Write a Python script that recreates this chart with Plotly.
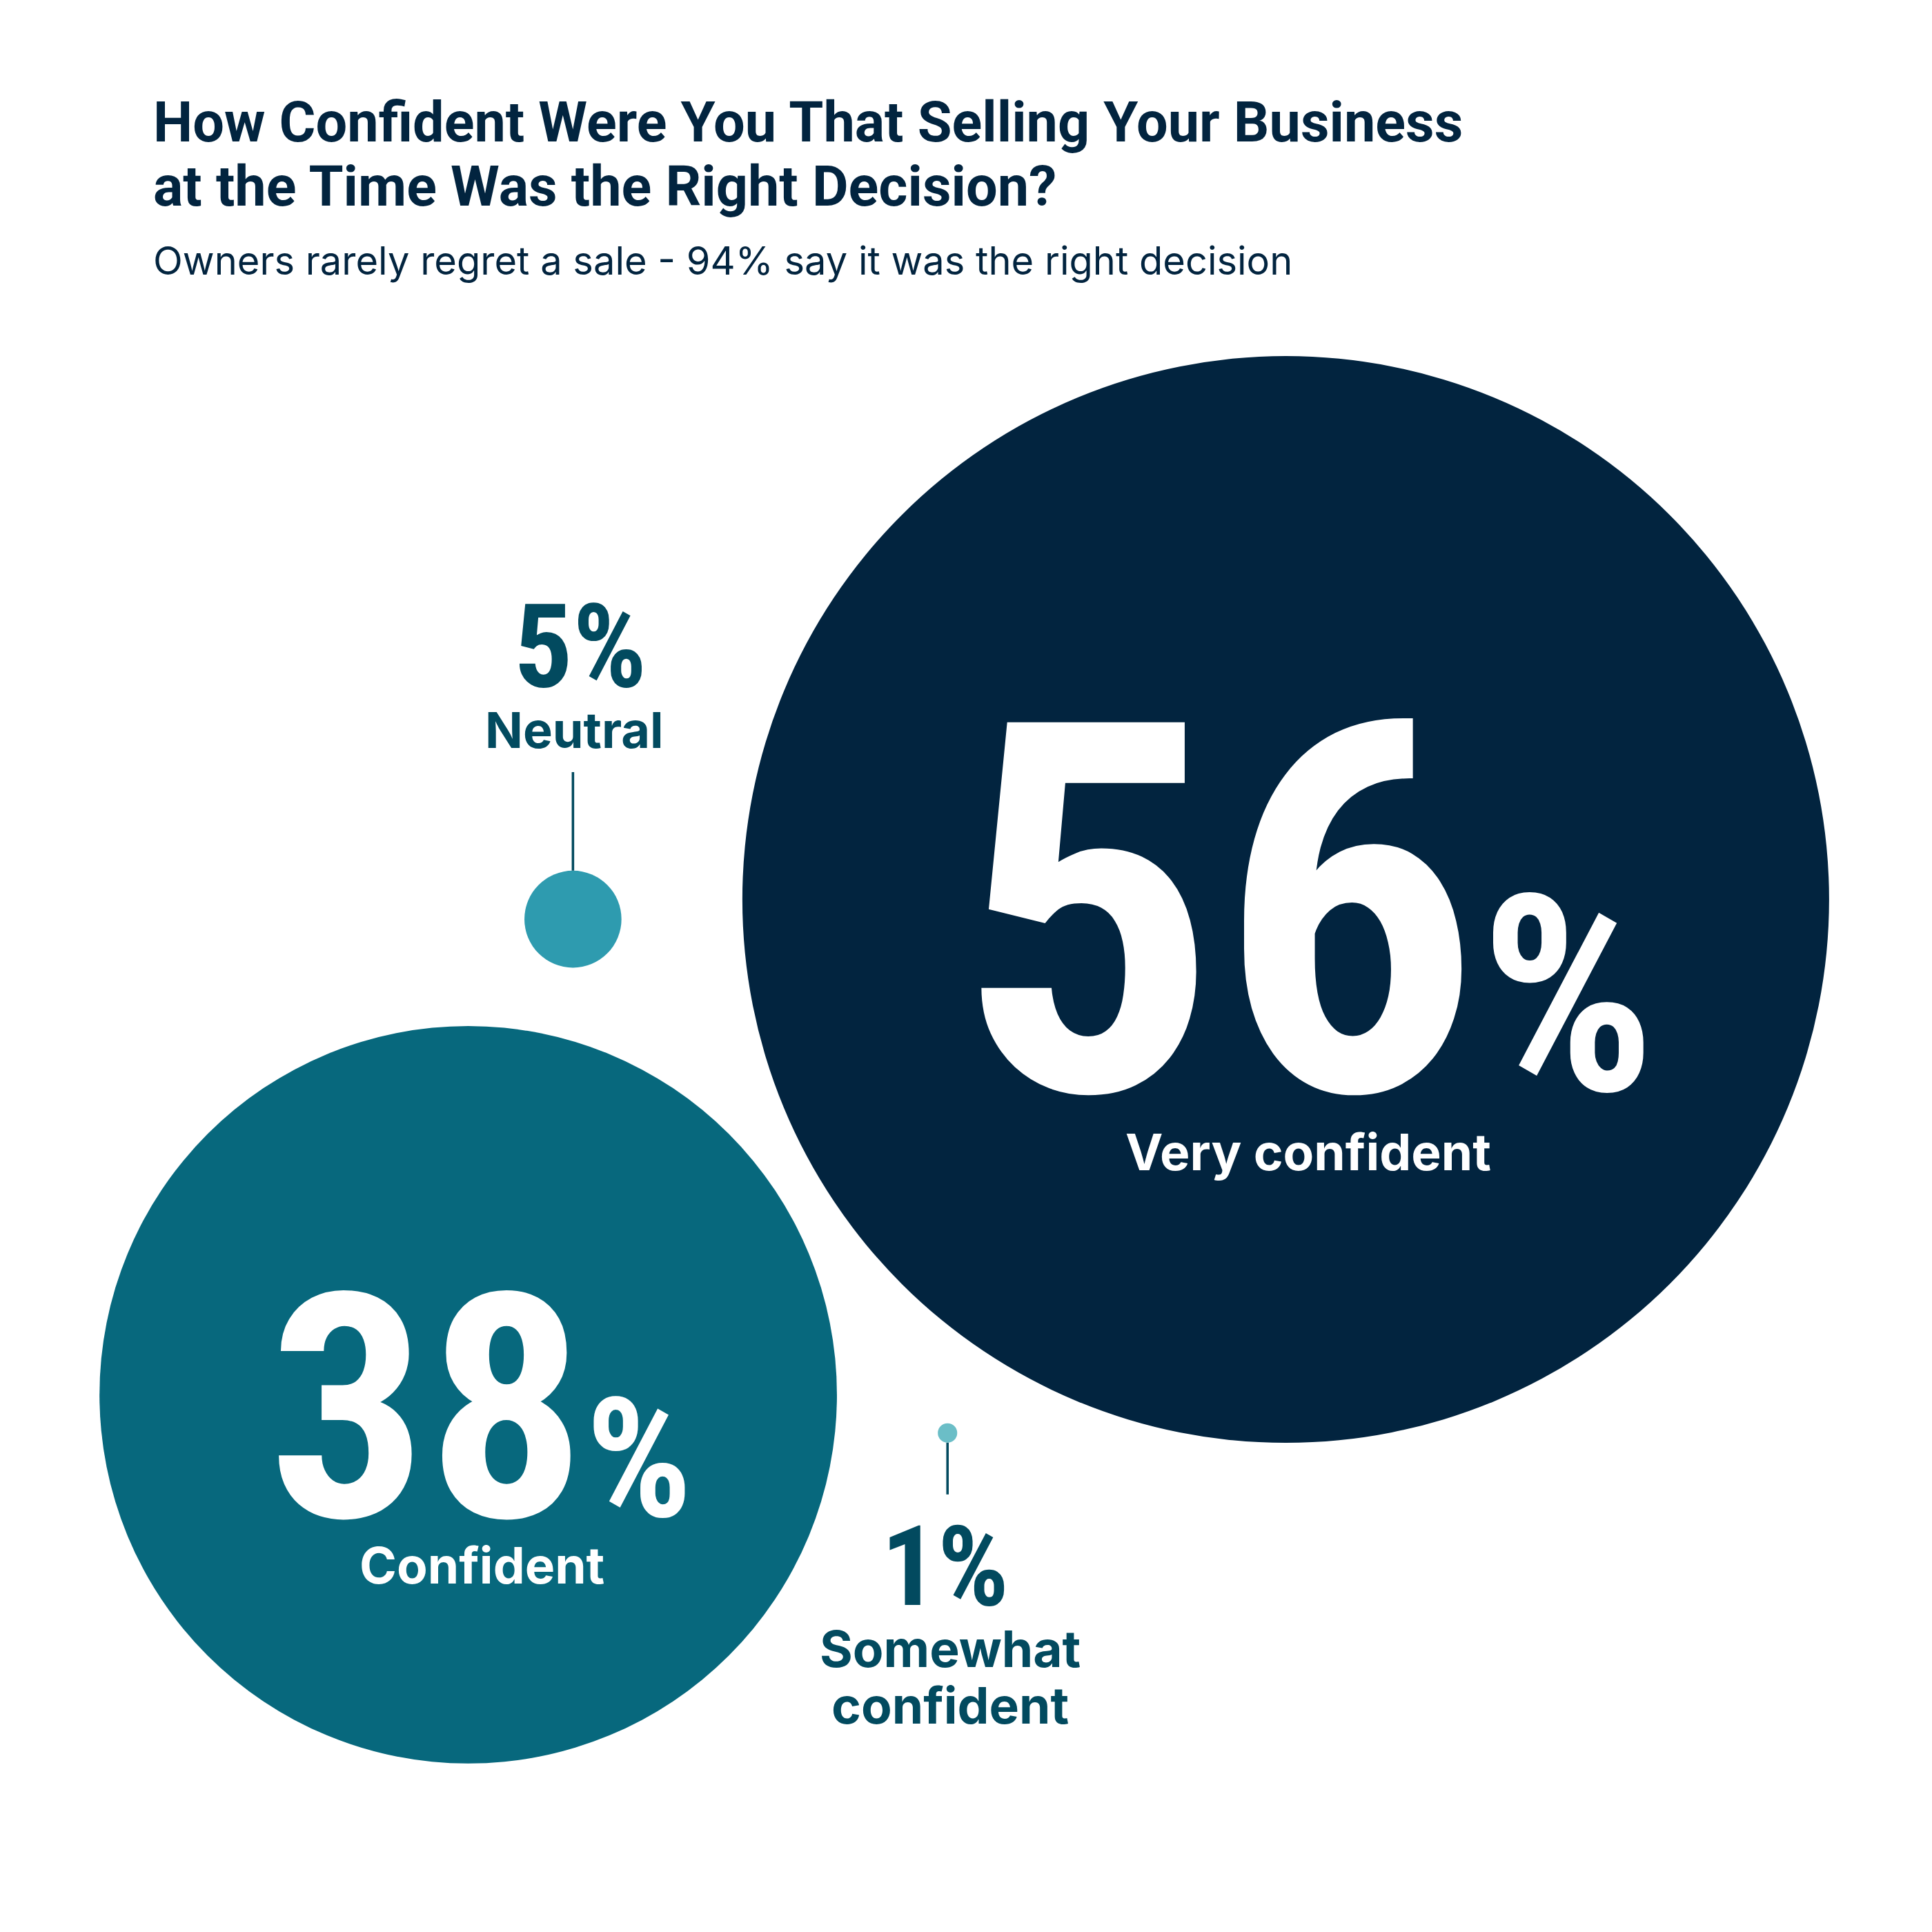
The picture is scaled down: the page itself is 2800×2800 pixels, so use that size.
import plotly.graph_objects as go

# ---------------- data ----------------
categories = ["Very confident", "Confident", "Neutral", "Somewhat confident"]
values = [56, 38, 5, 1]
label_lines = [["Very confident"], ["Confident"], ["Neutral"], ["Somewhat", "confident"]]
title_lines = ["How Confident Were You That Selling Your Business",
               "at the Time Was the Right Decision?"]
subtitle = "Owners rarely regret a sale - 94% say it was the right decision"

# ---------------- layout (reference units, 1568 wide) ----------------
REF = 1568
PX = 2800 / REF                 # screen px per reference unit
OFF = 8 / PX                    # compensate page body margin
R_PER_PCT = 441 / 56            # circle radius per percentage point
center_x = [1043.5, 380, 465, 769]
center_y = [730, 1132, 746, 1163]
fill_colors = ["#02243F", "#07687D", "#2E9BAF", "#6BBEC7"]
inside = [True, True, False, False]
num_cx = [1060, 390, 471, 767]
num_base = [885, 1231, 557, 1303]
num_font_px = [750, 455, 168, 162]
pct_ratio = [0.53, 0.53, 1.0, 1.0]
lab_cx = [1062, 391, 466, 771]
lab_base = [950, 1285, 607, 1353]
lab_font_px = [73, 73, 72, 73]
lab_line_gap = 46
leader_len = [0, 0, 80, 42]
leader_dir = [0, 0, -1, 1]

DARK_TEAL = "#024A5F"
NAVY = "#02243F"
NUM_FONT = "Roboto Condensed, Roboto, sans-serif"
LAB_FONT = "Inter, Roboto, sans-serif"
TITLE_FONT = "Roboto, Inter, sans-serif"


def mid_from_base(base, font_px, k):
    """y (ref units) of the text box middle for a given baseline."""
    return base - k * font_px / PX


fig = go.Figure()
shapes = []
annotations = []

for i, v in enumerate(values):
    r = v * R_PER_PCT
    cx, cy = center_x[i], center_y[i]
    shapes.append(dict(type="circle", xref="x", yref="y",
                       x0=cx - r, x1=cx + r, y0=cy - r, y1=cy + r,
                       fillcolor=fill_colors[i], line=dict(width=0), layer="below"))
    if leader_len[i]:
        y_start = cy + leader_dir[i] * r
        shapes.append(dict(type="line", xref="x", yref="y",
                           x0=cx, x1=cx, y0=y_start, y1=y_start + leader_dir[i] * leader_len[i],
                           line=dict(color=DARK_TEAL, width=2 * PX)))
    col = "#FFFFFF" if inside[i] else DARK_TEAL
    fs = num_font_px[i]
    if pct_ratio[i] < 1:
        txt = f"{v}<span style='font-size:{fs * pct_ratio[i]:.0f}px'>%</span>"
    else:
        txt = f"{v}%"
    annotations.append(dict(x=num_cx[i], y=mid_from_base(num_base[i], fs, 0.342),
                            xref="x", yref="y", text=txt, showarrow=False,
                            xanchor="center", yanchor="middle",
                            font=dict(family=NUM_FONT, size=fs, color=col, weight=700)))
    for j, line in enumerate(label_lines[i]):
        lfs = lab_font_px[i]
        annotations.append(dict(x=lab_cx[i], y=mid_from_base(lab_base[i] + j * lab_line_gap, lfs, 0.364),
                                xref="x", yref="y", text=line, showarrow=False,
                                xanchor="center", yanchor="middle",
                                font=dict(family=LAB_FONT, size=lfs, color=col, weight=700)))

# title & subtitle
title_base = [115, 167]
tfs = 81
for k, line in enumerate(title_lines):
    annotations.append(dict(x=123, y=mid_from_base(title_base[k], tfs, 0.342), xref="x", yref="y",
                            text=line, showarrow=False, xanchor="left", yanchor="middle",
                            font=dict(family=TITLE_FONT, size=tfs, color=NAVY, weight=700)))
sfs = 56
annotations.append(dict(x=123, y=mid_from_base(223, sfs, 0.364), xref="x", yref="y", text=subtitle,
                        showarrow=False, xanchor="left", yanchor="middle",
                        font=dict(family=LAB_FONT, size=sfs, color=NAVY, weight=400)))

fig.update_layout(
    width=2800, height=2800, margin=dict(l=0, r=0, t=0, b=0),
    paper_bgcolor="white", plot_bgcolor="white", showlegend=False,
    shapes=shapes, annotations=annotations,
    xaxis=dict(range=[OFF, REF + OFF], visible=False, fixedrange=True),
    yaxis=dict(range=[REF + OFF, OFF], visible=False, fixedrange=True),
)
fig.write_html("out.html")
